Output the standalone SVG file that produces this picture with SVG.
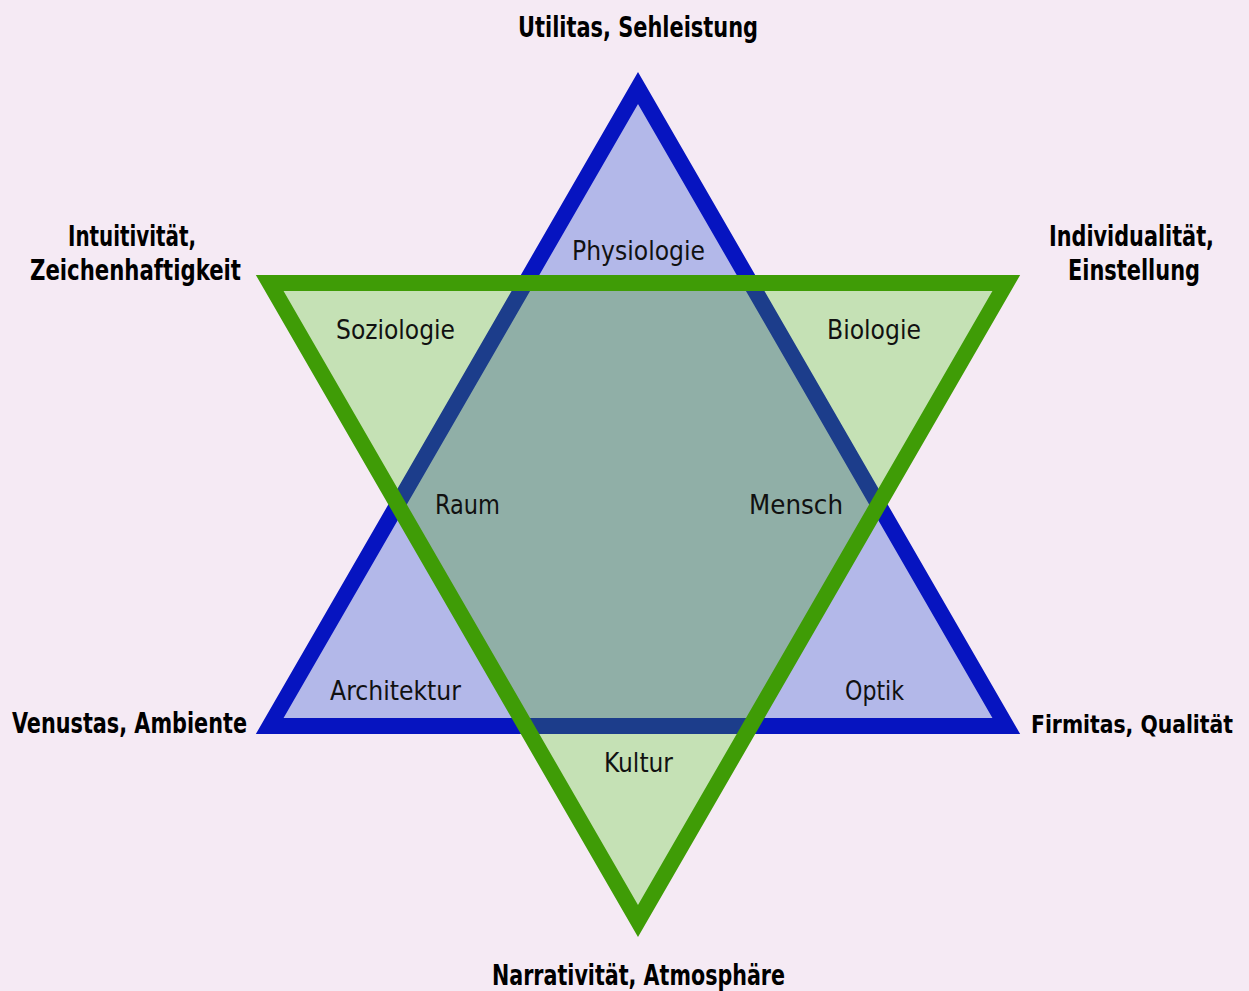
<svg xmlns="http://www.w3.org/2000/svg" width="1249" height="991" viewBox="0 0 1249 991">
<defs>
<style>
.bold{font-family:"Liberation Sans Narrow","DejaVu Sans Condensed","Liberation Sans",sans-serif;font-weight:bold;font-size:28px;fill:#000;text-anchor:middle}
.reg{font-family:"Liberation Sans Narrow","DejaVu Sans Condensed","Liberation Sans",sans-serif;font-size:27px;fill:#111;text-anchor:middle}
</style>
<clipPath id="greenClip"><polygon points="269.7,283 1006.3,283 638,921"/></clipPath>
</defs>
<rect width="1249" height="991" fill="#f5eaf4"/>
<g id="shapes">
<g id="blue-triangle">
<polygon points="638,88 1006.3,726 269.7,726" fill="#b3b8e9" stroke="#0614c0" stroke-width="16" stroke-linejoin="miter" stroke-miterlimit="10"/>
</g>
<g id="green-triangle-fill">
<polygon points="269.7,283 1006.3,283 638,921" fill="#c5e1b5"/>
</g>
<g id="overlap" clip-path="url(#greenClip)">
<polygon points="638,88 1006.3,726 269.7,726" fill="#90afa7" stroke="#1c3d8b" stroke-width="16" stroke-linejoin="miter" stroke-miterlimit="10"/>
</g>
<g id="green-triangle-stroke">
<polygon points="269.7,283 1006.3,283 638,921" fill="none" stroke="#3f9c06" stroke-width="16" stroke-linejoin="miter" stroke-miterlimit="10"/>
</g>
</g>
<g id="outer-labels">
<g id="utilitas"><text class="bold" x="638" y="37" textLength="240" lengthAdjust="spacingAndGlyphs">Utilitas, Sehleistung</text></g>
<g id="intuitivitaet"><text class="bold" x="132" y="246" textLength="128" lengthAdjust="spacingAndGlyphs">Intuitivität,</text><text class="bold" x="135.5" y="280" textLength="211" lengthAdjust="spacingAndGlyphs">Zeichenhaftigkeit</text></g>
<g id="individualitaet"><text class="bold" x="1131.5" y="246" textLength="165" lengthAdjust="spacingAndGlyphs">Individualität,</text><text class="bold" x="1134" y="280" textLength="132" lengthAdjust="spacingAndGlyphs">Einstellung</text></g>
<g id="venustas"><text class="bold" x="129.5" y="733" textLength="235" lengthAdjust="spacingAndGlyphs">Venustas, Ambiente</text></g>
<g id="firmitas"><text class="bold" x="1233" y="733" style="text-anchor:end;font-size:24px" textLength="202" lengthAdjust="spacingAndGlyphs">Firmitas, Qualität</text></g>
<g id="narrativitaet"><text class="bold" x="638.5" y="985" textLength="293" lengthAdjust="spacingAndGlyphs">Narrativität, Atmosphäre</text></g>
</g>
<g id="inner-labels">
<g id="physiologie"><text class="reg" x="638.5" y="260" textLength="133" lengthAdjust="spacingAndGlyphs">Physiologie</text></g>
<g id="soziologie"><text class="reg" x="395.5" y="339" textLength="119" lengthAdjust="spacingAndGlyphs">Soziologie</text></g>
<g id="biologie"><text class="reg" x="874" y="339" textLength="94" lengthAdjust="spacingAndGlyphs">Biologie</text></g>
<g id="raum"><text class="reg" x="467.5" y="514" textLength="65" lengthAdjust="spacingAndGlyphs">Raum</text></g>
<g id="mensch"><text class="reg" x="796" y="514" textLength="94" lengthAdjust="spacingAndGlyphs">Mensch</text></g>
<g id="architektur"><text class="reg" x="395.5" y="700" textLength="131" lengthAdjust="spacingAndGlyphs">Architektur</text></g>
<g id="optik"><text class="reg" x="874.5" y="700" textLength="59" lengthAdjust="spacingAndGlyphs">Optik</text></g>
<g id="kultur"><text class="reg" x="638.5" y="772" textLength="69" lengthAdjust="spacingAndGlyphs">Kultur</text></g>
</g>
</svg>
